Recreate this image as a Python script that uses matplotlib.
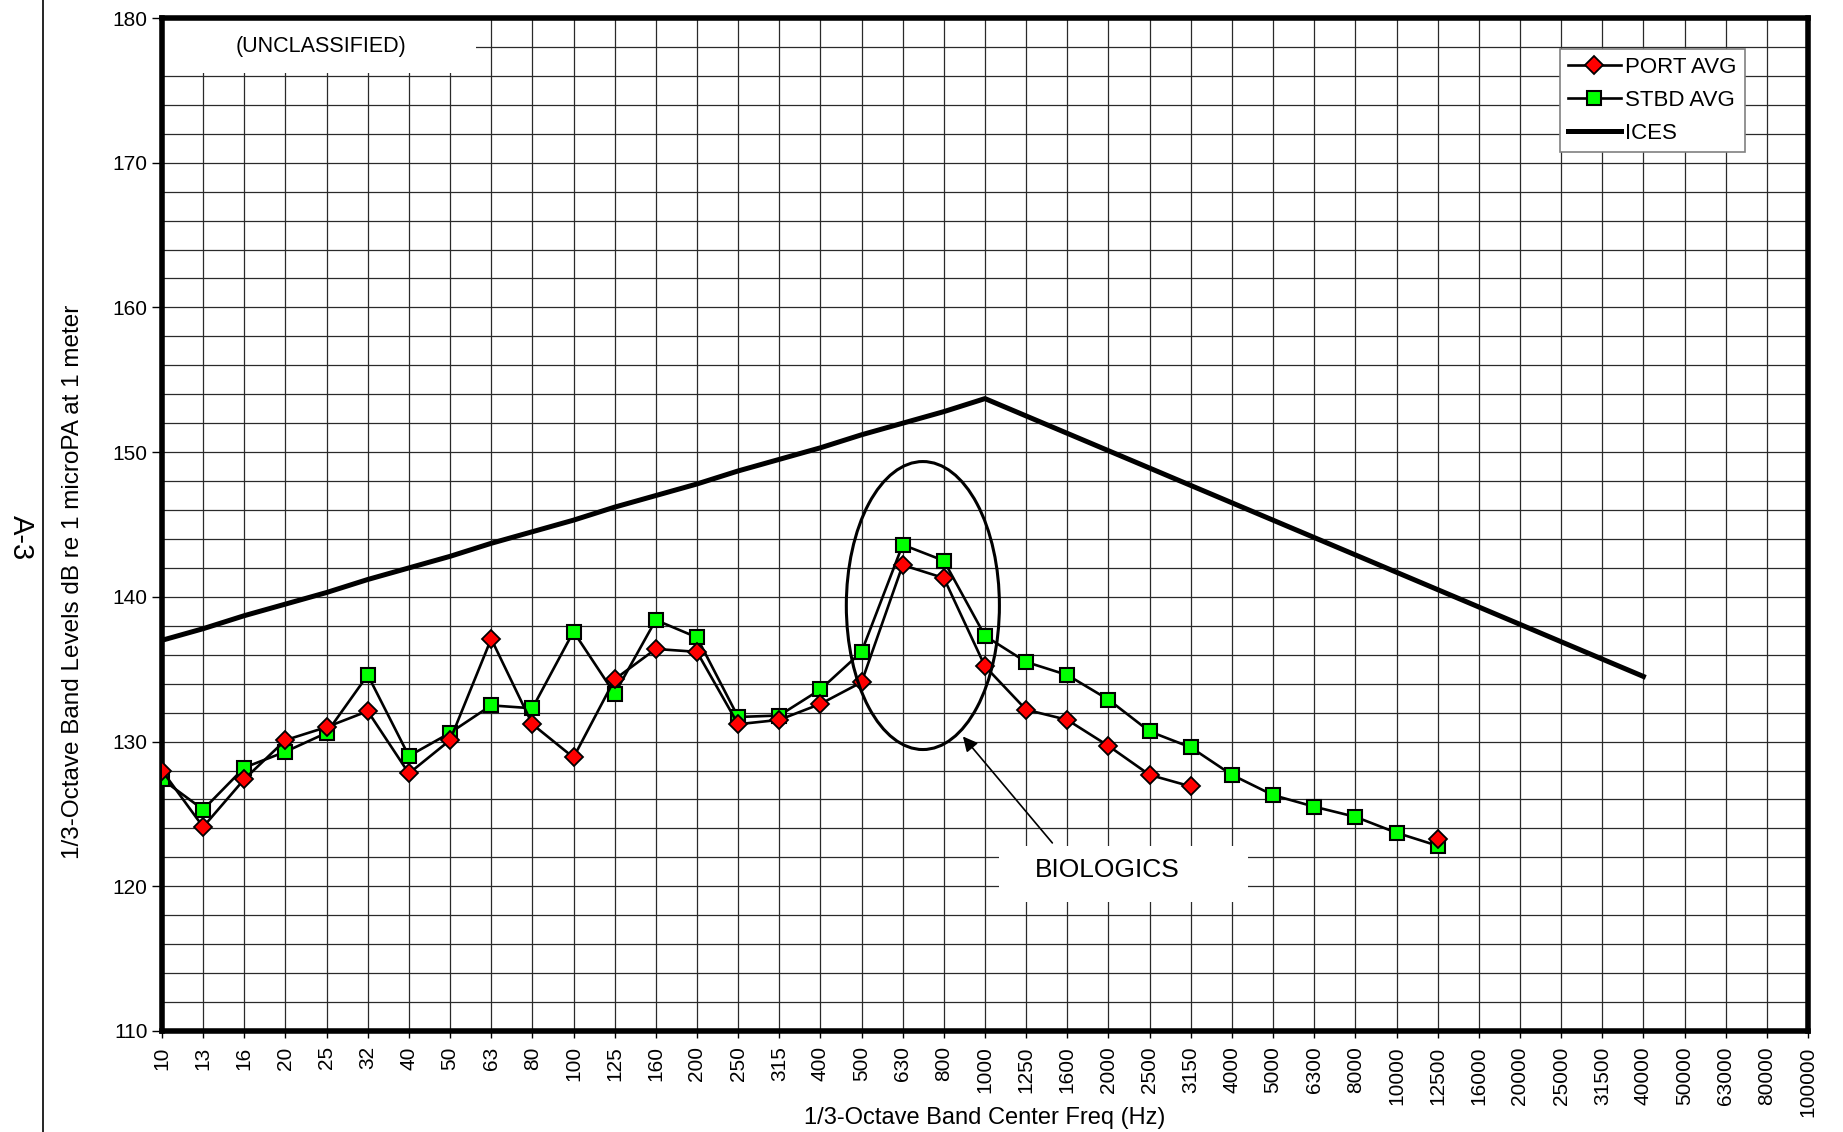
import numpy as np
import matplotlib
matplotlib.use("Agg")
import matplotlib.pyplot as plt
from matplotlib.patches import Ellipse, Rectangle

plt.rcParams['font.family'] = ['Liberation Sans', 'DejaVu Sans']

# Bandas de 1/3 de octava
bandas = ['10', '13', '16', '20', '25', '32', '40', '50', '63', '80', '100', '125',
          '160', '200', '250', '315', '400', '500', '630', '800', '1000', '1250',
          '1600', '2000', '2500', '3150', '4000', '5000', '6300', '8000', '10000',
          '12500', '16000', '20000', '25000', '31500', '40000', '50000', '63000',
          '80000', '100000']

nan = np.nan
port_avg = [128.0, 124.1, 127.4, 130.1, 131.0, 132.1, 127.8, 130.1, 137.1, 131.2,
            128.9, 134.3, 136.4, 136.2, 131.2, 131.5, 132.6, 134.1, 142.2, 141.3,
            135.2, 132.2, 131.5, 129.7, 127.7, 126.9, nan, nan, nan, nan,
            nan, 123.3]
stbd_avg = [127.4, 125.3, 128.2, 129.3, 130.6, 134.6, 129.0, 130.6, 132.5, 132.3,
            137.6, 133.3, 138.4, 137.2, 131.7, 131.8, 133.6, 136.2, 143.6, 142.5,
            137.3, 135.5, 134.6, 132.9, 130.7, 129.6, 127.7, 126.3, 125.5, 124.8,
            123.7, 122.8]
ices = [137.0, 137.8, 138.7, 139.5, 140.3, 141.2, 142.0, 142.8, 143.7, 144.5,
        145.3, 146.2, 147.0, 147.8, 148.7, 149.5, 150.3, 151.2, 152.0, 152.8,
        153.7, 152.5, 151.3, 150.1, 148.9, 147.7, 146.5, 145.3, 144.1, 142.9,
        141.7, 140.5, 139.3, 138.1, 136.9, 135.7, 134.5]

fig = plt.figure(figsize=(18.43, 11.32), dpi=100)
ax = fig.add_axes([162 / 1843, 1 - 1031 / 1132, 1646 / 1843, 1013 / 1132])

x_port = np.arange(len(port_avg))
x_stbd = np.arange(len(stbd_avg))
x_ices = np.arange(len(ices))

ax.plot(x_port, port_avg, color='black', lw=1.9, marker='D', ms=9,
        mfc='#ff0000', mec='black', mew=1.3, label='PORT AVG', zorder=5)
ax.plot(x_stbd, stbd_avg, color='black', lw=1.9, marker='s', ms=10,
        mfc='#00ff00', mec='black', mew=1.5, label='STBD AVG', zorder=4)
ax.plot(x_ices, ices, color='black', lw=3.6, label='ICES', zorder=3)

# Ejes y rejilla
ax.set_xlim(0, len(bandas) - 1)
ax.set_ylim(110, 180)
ax.set_xticks(np.arange(len(bandas)))
ax.set_xticklabels(bandas, rotation=90, fontsize=15)
ax.set_yticks(np.arange(110, 181, 10))
ax.set_yticks(np.arange(110, 181, 2), minor=True)
ax.tick_params(axis='y', which='major', labelsize=15, length=7, width=1, direction='out')
ax.tick_params(axis='y', which='minor', length=0)
ax.tick_params(axis='x', length=5, width=1, pad=6)
ax.grid(True, which='both', axis='y', color='#2a2a2a', lw=0.9, zorder=0)
ax.grid(True, which='major', axis='x', color='#2a2a2a', lw=0.9, zorder=0)
for s in ax.spines.values():
    s.set_linewidth(4)

ax.set_xlabel('1/3-Octave Band Center Freq (Hz)', fontsize=17)
ax.xaxis.set_label_coords(0.5, -0.0859)
ax.xaxis.label.set_va('center')
ax.set_ylabel('1/3-Octave Band Levels dB re 1 microPA at 1 meter', fontsize=17.5)
ax.yaxis.set_label_coords(-0.054, 0.443)
ax.yaxis.label.set_va('center')

# Cajas de texto blancas sobre la rejilla
ax.add_patch(Rectangle((0, 176.2), 7.63, 3.8, facecolor='white', edgecolor='none', zorder=2))
ax.text(3.87, 178.0, '(UNCLASSIFIED)', ha='center', va='center', fontsize=15.5, zorder=2.2)

ax.add_patch(Rectangle((20.35, 118.9), 6.04, 3.9, facecolor='white', edgecolor='none', zorder=2))
ax.text(22.97, 121.1, 'BIOLOGICS', ha='center', va='center', fontsize=19, zorder=2.2)

ax.add_patch(Ellipse((18.49, 139.4), 3.72, 19.9, fill=False, edgecolor='black', lw=2.2, zorder=6))
ax.annotate('', xy=(19.42, 130.5), xytext=(21.68, 122.85),
            arrowprops=dict(arrowstyle='-|>', color='black', lw=1.2, mutation_scale=22), zorder=6)

leg = ax.legend(loc='upper right', bbox_to_anchor=(0.9615, 0.9695), fontsize=16,
                frameon=True, fancybox=False, framealpha=1, edgecolor='#808080',
                handlelength=2.4, handletextpad=0.2, borderpad=0.35, labelspacing=0.55,
                borderaxespad=0)
leg.get_frame().set_linewidth(1.2)

# Marca de página
fig.add_artist(plt.Line2D([43 / 1843, 43 / 1843], [0, 1], color='black', lw=1.2))
fig.text(21 / 1843, 1 - 538 / 1132, 'A-3', rotation=270, ha='center', va='center', fontsize=21)

fig.savefig('out.png', dpi=100)
